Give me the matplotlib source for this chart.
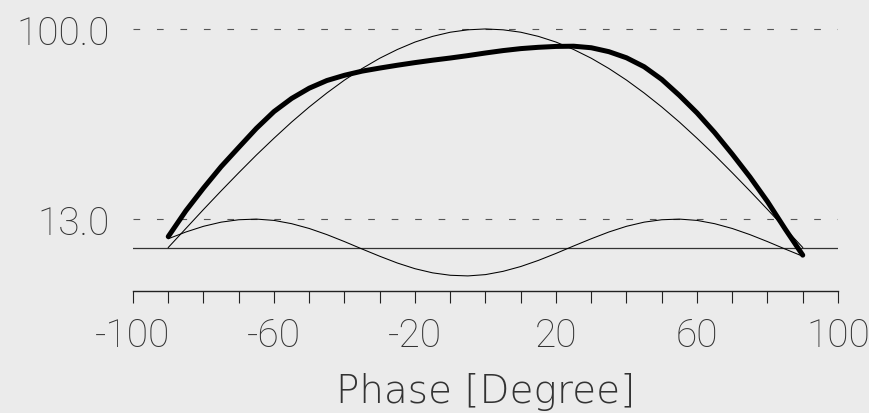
import matplotlib
matplotlib.use("Agg")
import matplotlib.pyplot as plt
from matplotlib import font_manager

# phase grid of the sampled curves (degrees)
phase = [-90, -85, -80, -75, -70, -65, -60, -55, -50, -45, -40, -35, -30,
         -25, -20, -15, -10, -5, 0, 5, 10, 15, 20, 25, 30, 35, 40, 45, 50,
         55, 60, 65, 70, 75, 80, 85, 90]

# thick measured curve
measured = [5.0, 16.8, 27.2, 37.0, 45.8, 54.5, 62.2, 68.2, 72.9, 76.4, 78.8,
            80.7, 82.1, 83.4, 84.6, 85.7, 86.7, 87.8, 89.0, 90.1, 91.0, 91.6,
            92.0, 92.1, 91.4, 89.6, 86.8, 82.7, 76.9, 69.6, 61.6, 52.6, 42.7,
            32.3, 21.0, 8.5, -3.5]

# thin big arch
arch = [0.0, 8.7, 17.4, 25.9, 34.2, 42.3, 50.0, 57.4, 64.3, 70.7, 76.6, 81.9,
        86.6, 90.6, 94.0, 96.6, 98.5, 99.6, 100.0, 99.6, 98.5, 96.6, 94.0,
        90.6, 86.6, 81.9, 76.6, 70.7, 64.3, 57.4, 50.0, 42.3, 34.2, 25.9,
        17.4, 8.7, 0.0]

# thin small ripple
ripple = [4.0, 7.1, 9.7, 11.6, 12.7, 13.0, 12.4, 10.9, 8.7, 5.9, 2.7, -0.7,
          -4.0, -7.1, -9.7, -11.6, -12.7, -13.0, -12.4, -10.9, -8.7, -5.9,
          -2.7, 0.7, 4.0, 7.1, 9.7, 11.6, 12.7, 13.0, 12.4, 10.9, 8.7, 5.9,
          2.7, -0.7, -4.0]

ref_levels = [100.0, 13.0]
x_ticks = list(range(-100, 101, 10))
x_labels = ["-100", "-60", "-20", "20", "60", "100"]

BG = "#ebebeb"
TXT = "#333333"

fonts = font_manager.fontManager.ttflist
avail = {f.name for f in fonts}
fam = [f for f in ["Roboto", "Lato", "Open Sans", "DejaVu Sans"] if f in avail]
plt.rcParams["font.family"] = fam
plt.rcParams["lines.scale_dashes"] = False

# thin wide face for the axis title if there is one
dv_light = any(f.name == "DejaVu Sans" and f.weight in (200, "extra light", "ultralight")
               for f in fonts)
if dv_light:
    title_font = dict(family="DejaVu Sans", fontweight=200, fontsize=28)
else:
    title_font = dict(fontweight="light", fontsize=30)

fig = plt.figure(figsize=(8.7, 4.14), dpi=100, facecolor=BG)
ax = fig.add_axes([133 / 870, 1 - 292 / 414, 705 / 870, 292 / 414])
ax.set_facecolor(BG)
ax.set_xlim(-100, 100)
ax.set_ylim(-19.9, 113.7)

for lv in ref_levels:
    ax.axhline(lv, color="#555555", lw=0.8, ls=(0, (4.8, 12.1)), zorder=1)
ax.axhline(0, color="#333333", lw=0.9, zorder=1)

ax.plot(phase, arch, color="black", lw=0.75, zorder=2)
ax.plot(phase, ripple, color="black", lw=0.75, zorder=2)
ax.plot(phase, measured, color="black", lw=3.6, solid_capstyle="round",
        solid_joinstyle="round", zorder=3)

for s in ["top", "left", "right"]:
    ax.spines[s].set_visible(False)
ax.spines["bottom"].set_linewidth(1.0)
ax.spines["bottom"].set_color("#222222")

ax.set_xticks(x_ticks)
lab_map = {int(t): t for t in x_labels}
ax.set_xticklabels([lab_map.get(t, "") for t in x_ticks])
ax.tick_params(axis="x", direction="out", length=8.4, width=0.8,
               color="#222222", pad=10, labelsize=28, labelcolor=TXT)
for t in ax.get_xticklabels():
    t.set_fontweight("light")

ax.set_yticks(ref_levels)
ax.set_yticklabels(["%.1f" % v for v in ref_levels])
ax.tick_params(axis="y", length=0, pad=16.5, labelsize=28, labelcolor=TXT)
for t in ax.get_yticklabels():
    t.set_fontweight("light")

ax.set_xlabel("Phase [Degree]", color=TXT, labelpad=13, **title_font)

fig.savefig("out.png", dpi=100, facecolor=BG)
